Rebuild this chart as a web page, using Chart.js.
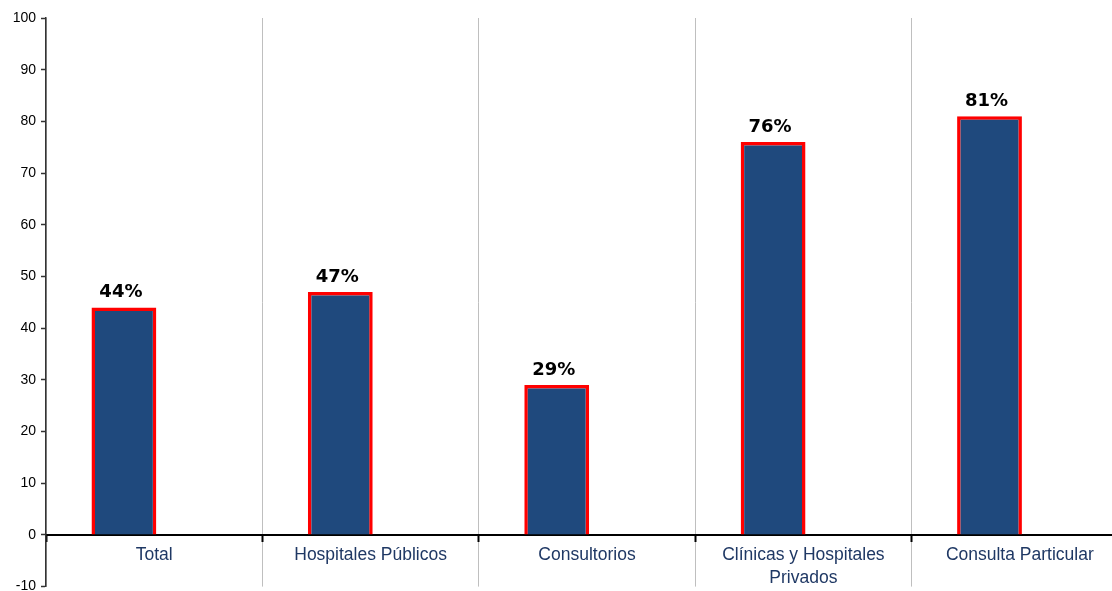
<!DOCTYPE html>
<html lang="es">
<head>
<meta charset="utf-8">
<title>Porcentaje por lugar de atención</title>
<script src="https://cdn.jsdelivr.net/npm/chart.js@4/dist/chart.umd.min.js"></script>
<style>
  html, body { margin: 0; padding: 0; background: #fff; overflow: hidden; width: 1112px; height: 591px; }
  #wrap { position: relative; width: 1130px; height: 600px; }
</style>
</head>
<body>
<div id="wrap"><canvas id="chart"></canvas></div>
<script>
// Categories (lugar de atención) and their shares in percent
const categories = [
  'Total',
  'Hospitales Públicos',
  'Consultorios',
  ['Clínicas y Hospitales', 'Privados'],
  'Consulta Particular'
];
const shares = [44, 47, 29, 76, 81];
// Empty companion series that keeps the second bar slot in each group
const emptySeries = [null, null, null, null, null];
// Value axis
const yMin = -10;
const yMax = 100;
const yStep = 10;

const BAR_BLUE = '#1F497D';
const BAR_EDGE = '#FF0000';

// Percent labels above each bar
const valueLabels = {
  id: 'valueLabels',
  afterDatasetsDraw(chart) {
    const ctx = chart.ctx;
    const meta = chart.getDatasetMeta(0);
    ctx.save();
    ctx.font = 'bold 18px "DejaVu Sans"';
    ctx.fillStyle = '#000';
    ctx.textAlign = 'center';
    ctx.textBaseline = 'alphabetic';
    meta.data.forEach((bar, i) => {
      const v = chart.data.datasets[0].data[i];
      if (v == null) return;
      ctx.fillText(v + '%', bar.x - 3, bar.y - 10);
    });
    ctx.restore();
  }
};

new Chart(document.getElementById('chart'), {
  type: 'bar',
  data: {
    labels: categories,
    datasets: [
      {
        data: shares,
        backgroundColor: BAR_BLUE,
        borderColor: BAR_EDGE,
        borderWidth: 3.5,
        borderSkipped: 'bottom',
        categoryPercentage: 0.56,
        barPercentage: 1.07
      },
      {
        data: emptySeries,
        backgroundColor: 'rgba(0,0,0,0)',
        categoryPercentage: 0.56,
        barPercentage: 1.07
      }
    ]
  },
  options: {
    responsive: true,
    maintainAspectRatio: false,
    animation: false,
    layout: { padding: { top: 18, right: 2, bottom: 10, left: 0 } },
    plugins: {
      legend: { display: false },
      tooltip: { enabled: false }
    },
    scales: {
      x: {
        position: { y: 0 },
        z: 1,
        grid: {
          offset: true,
          color: '#BFBFBF',
          lineWidth: 1,
          tickColor: '#000',
          tickLength: 6,
          tickWidth: 2
        },
        border: { color: '#000', width: 2 },
        ticks: {
          color: '#1F3864',
          font: { family: '"Liberation Sans", Arial, sans-serif', size: 17.5, lineHeight: 1.3 },
          padding: 3,
          maxRotation: 0,
          autoSkip: false
        }
      },
      y: {
        min: yMin,
        max: yMax,
        afterFit(scale) { scale.width = 46; },
        grid: {
          drawOnChartArea: false,
          tickLength: 5,
          tickColor: '#333',
          tickWidth: 1.5
        },
        border: { color: '#333', width: 1.5 },
        ticks: {
          stepSize: yStep,
          color: '#000',
          font: { family: '"Liberation Sans", Arial, sans-serif', size: 14 },
          padding: 5
        }
      }
    }
  },
  plugins: [valueLabels]
});
</script>
</body>
</html>
